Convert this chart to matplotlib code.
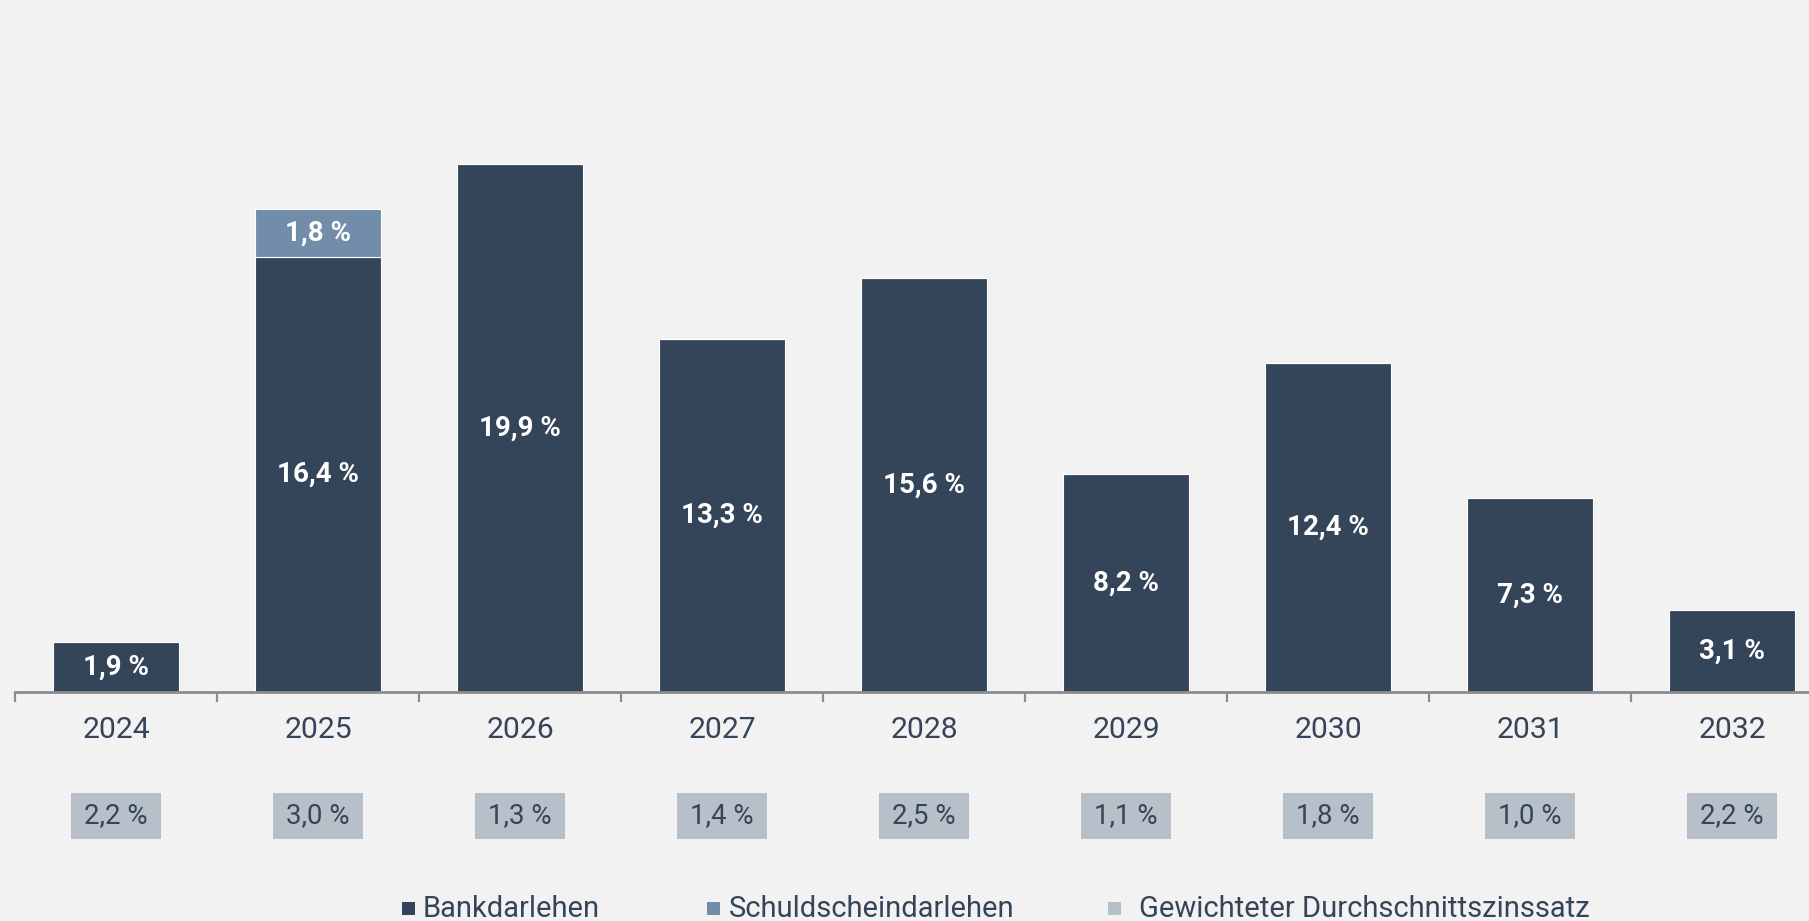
import matplotlib.pyplot as plt
import numpy as np
from matplotlib.patches import Rectangle

plt.rcParams['font.family'] = ['Roboto', 'DejaVu Sans']

# data
years = ['2024', '2025', '2026', '2027', '2028', '2029', '2030', '2031', '2032']
bankdarlehen = [1.9, 16.4, 19.9, 13.3, 15.6, 8.2, 12.4, 7.3, 3.1]
schuldschein = [0, 1.8, 0, 0, 0, 0, 0, 0, 0]
zinssatz = [2.2, 3.0, 1.3, 1.4, 2.5, 1.1, 1.8, 1.0, 2.2]
legend_labels = ['Bankdarlehen', 'Schuldscheindarlehen', 'Gewichteter Durchschnittszinssatz']

c_bank = '#344559'
c_ssd = '#728DAA'
c_grey = '#B7C0C8'
c_text = '#344559'
bg = '#F2F2F2'

def fmt(v):
    return f'{v:.1f} %'.replace('.', ',')

W, H = 1809, 921
fig = plt.figure(figsize=(W / 100, H / 100), dpi=100, facecolor=bg)
ax = fig.add_axes([15 / W, (H - 692) / H, 1 - 15 / W, 692 / H])
ax.set_facecolor(bg)

x = np.arange(len(years))
px_per = 26.55
b1 = ax.bar(x, bankdarlehen, width=0.62, color=c_bank, edgecolor='white', linewidth=0.8)
b2 = ax.bar(x, schuldschein, width=0.62, bottom=bankdarlehen, color=c_ssd,
            edgecolor='white', linewidth=0.8)
ax.bar_label(b1, labels=[fmt(v) for v in bankdarlehen], label_type='center',
             color='white', fontsize=20, fontweight='bold')
ax.bar_label(b2, labels=[fmt(v) if v > 0 else '' for v in schuldschein], label_type='center',
             color='white', fontsize=20, fontweight='bold')

for s in ['top', 'right', 'left']:
    ax.spines[s].set_visible(False)
ax.spines['bottom'].set_color('#8C8C8C')
ax.spines['bottom'].set_linewidth(2)
ax.set_yticks([])
ax.set_xticks(np.arange(len(years) + 1) - 0.5)
ax.set_xticklabels([])
ax.tick_params(axis='x', length=7, width=1.6, color='#8C8C8C', direction='out')

# limits after ticks (set_xticks would widen the view)
ax.set_xlim(-0.5, -0.5 + (W - 15) / 202)
ax.set_ylim(0, 692 / px_per)

# year labels and interest rate boxes
for i, (yr, z) in enumerate(zip(years, zinssatz)):
    ax.text(i, -38 / px_per, yr, ha='center', va='center', fontsize=21.7,
            color=c_text, clip_on=False)
    ax.add_patch(Rectangle((i - 0.2228, -147 / px_per), 0.4455, 46 / px_per,
                           facecolor=c_grey, edgecolor='none', clip_on=False))
    ax.text(i, -124 / px_per, fmt(z), ha='center', va='center', fontsize=19.9,
            color=c_text, clip_on=False)

# legend
leg_colors = [c_bank, c_ssd, c_grey]
sq_x = [402, 707, 1108]
tx_x = [423, 729, 1139]
for col, sx, tx, lab in zip(leg_colors, sq_x, tx_x, legend_labels):
    fig.patches.append(Rectangle((sx / W, (H - 915) / H), 13 / W, 13 / H,
                                 facecolor=col, edgecolor='none',
                                 transform=fig.transFigure, figure=fig))
    fig.text(tx / W, (H - 909) / H, lab, ha='left', va='center', fontsize=21, color=c_text)

fig.savefig('out.png', dpi=100, facecolor=bg)
